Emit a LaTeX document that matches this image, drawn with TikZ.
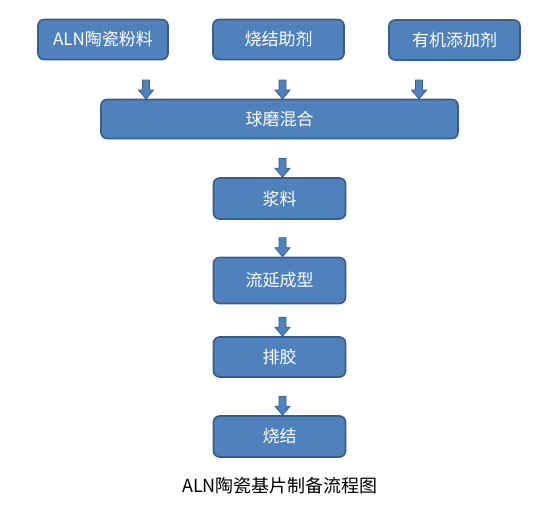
\documentclass[tikz,border=0pt]{standalone}
\usepackage{fontspec}
\setmainfont{Noto Sans CJK SC}
\definecolor{boxfill}{HTML}{4F81BD}
\definecolor{boxline}{HTML}{385D8A}
\begin{document}
\begin{tikzpicture}[x=1pt,y=-1pt,
  procbox/.style={draw=boxline,line width=1.6pt,fill=boxfill,rounded corners=6pt,
    text=white,font=\fontsize{17}{19}\selectfont,inner sep=0pt,minimum height=40pt},
  barrow/.pic={\filldraw[draw=boxline,fill=boxfill,line width=0.8pt,line join=miter]
    (0,0) -- (7.5,-9) -- (3.5,-9) -- (3.5,-19) -- (-3.5,-19) -- (-3.5,-9) -- (-7.5,-9) -- cycle;}]
\useasboundingbox (0,0) rectangle (546,506);
\node[procbox,minimum width=130pt] (aln) at (103,39.5) {ALN陶瓷粉料};
\node[procbox,minimum width=131pt] (aid) at (278.5,39.5) {烧结助剂};
\node[procbox,minimum width=131pt] (org) at (454.5,40) {有机添加剂};
\node[procbox,minimum width=357pt,minimum height=39pt] (mix) at (279.5,119) {球磨混合};
\node[procbox,minimum width=132pt,minimum height=41pt] (slur) at (279.5,198.5) {浆料};
\node[procbox,minimum width=132pt,minimum height=46pt] (cast) at (279.5,280.5) {流延成型};
\node[procbox,minimum width=132pt] (deb) at (279.5,357) {排胶};
\node[procbox,minimum width=132pt,minimum height=41pt] (sint) at (279.5,436.5) {烧结};
\node[font=\fontsize{18}{20}\selectfont,text=black] (cap) at (280,486) {ALN陶瓷基片制备流程图};
\coordinate (a1) at (146,99);
\coordinate (a2) at (282.5,99);
\coordinate (a3) at (419,99);
\pic at (a1) {barrow};
\pic at (a2) {barrow};
\pic at (a3) {barrow};
\pic at (slur.north -| a2) {barrow};
\pic at (cast.north -| a2) {barrow};
\pic at (deb.north -| a2) {barrow};
\pic at (sint.north -| a2) {barrow};
\end{tikzpicture}
\end{document}
